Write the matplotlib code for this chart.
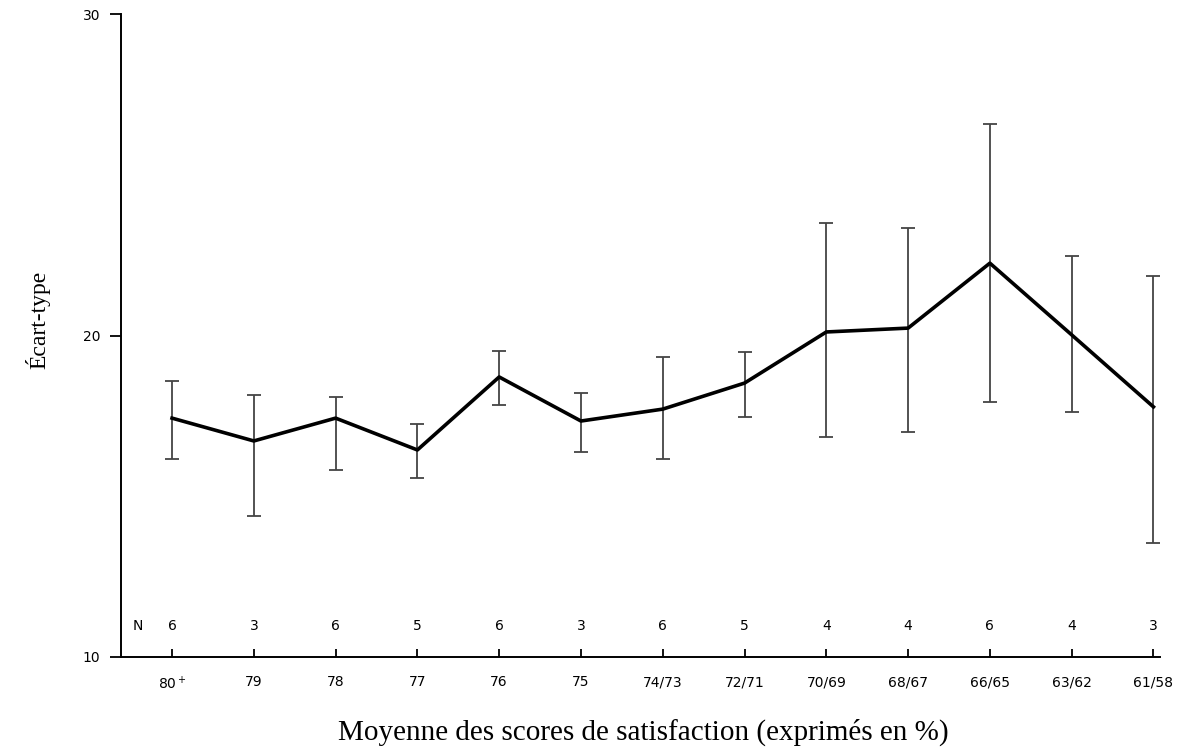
import matplotlib
matplotlib.use("Agg")
import matplotlib.pyplot as plt
import numpy as np

# satisfaction score groups (x axis) and group sizes
groups = [r"80$^+$", "79", "78", "77", "76", "75", "74/73", "72/71",
          "70/69", "68/67", "66/65", "63/62", "61/58"]
n_per_group = [6, 3, 6, 5, 6, 3, 6, 5, 4, 4, 6, 4, 3]

# standard deviation (line) and its bar ends
ecart = [17.43, 16.72, 17.43, 16.44, 18.71, 17.34, 17.71, 18.52,
         20.11, 20.23, 22.25, 20.02, 17.78]
bar_low = [16.16, 14.39, 15.82, 15.57, 17.84, 16.38, 16.16, 17.47,
           16.84, 17.00, 17.93, 17.62, 13.55]
bar_high = [18.58, 18.15, 18.09, 17.25, 19.52, 18.21, 19.33, 19.49,
            23.50, 23.34, 26.58, 22.47, 21.85]

x = np.arange(len(groups))
ecart = np.array(ecart)
yerr = [ecart - np.array(bar_low), np.array(bar_high) - ecart]

fig = plt.figure(figsize=(11.85, 7.48), dpi=100)
ax = fig.add_axes([121 / 1185, 1 - 657 / 748, (1160 - 121) / 1185, (657 - 14) / 748])

ax.errorbar(x, ecart, yerr=yerr, fmt="none", ecolor="#444444", elinewidth=1.3,
            capsize=5, capthick=1.3, zorder=2)
ax.plot(x, ecart, color="black", lw=2.6, zorder=3)

# N row just above the axis
sans = "DejaVu Sans"
ax.text(-0.42, 10.96, "N", ha="center", va="center", fontsize=10, family=sans)
for xi, n in zip(x, n_per_group):
    ax.text(xi, 10.96, str(n), ha="center", va="center", fontsize=10, family=sans)

ax.set_xlim(-0.624, 12.08)
ax.set_ylim(10, 30)
ax.set_xticks(x)
ax.set_xticklabels(groups, fontsize=10, family=sans)
ax.set_yticks([10, 20, 30])
ax.set_yticklabels(["10", "20", "30"], fontsize=10, family=sans)
ax.tick_params(axis="x", direction="in", length=6, width=1.3, pad=13)
ax.tick_params(axis="y", direction="out", length=8, width=1.3, pad=7)

for s in ["top", "right"]:
    ax.spines[s].set_visible(False)
for s in ["left", "bottom"]:
    ax.spines[s].set_linewidth(1.4)

ax.set_ylabel("Écart-type", fontsize=17, family="Liberation Serif")
ax.yaxis.label.set_va("baseline")
ax.yaxis.set_label_coords((45 - 121) / 1039, (657 - 320) / 643)
ax.set_xlabel("Moyenne des scores de satisfaction (exprimés en %)", fontsize=21,
              family="Liberation Serif")
ax.xaxis.label.set_va("baseline")
ax.xaxis.set_label_coords(0.503, (657 - 740) / 643)

fig.savefig("out.png", dpi=100)
